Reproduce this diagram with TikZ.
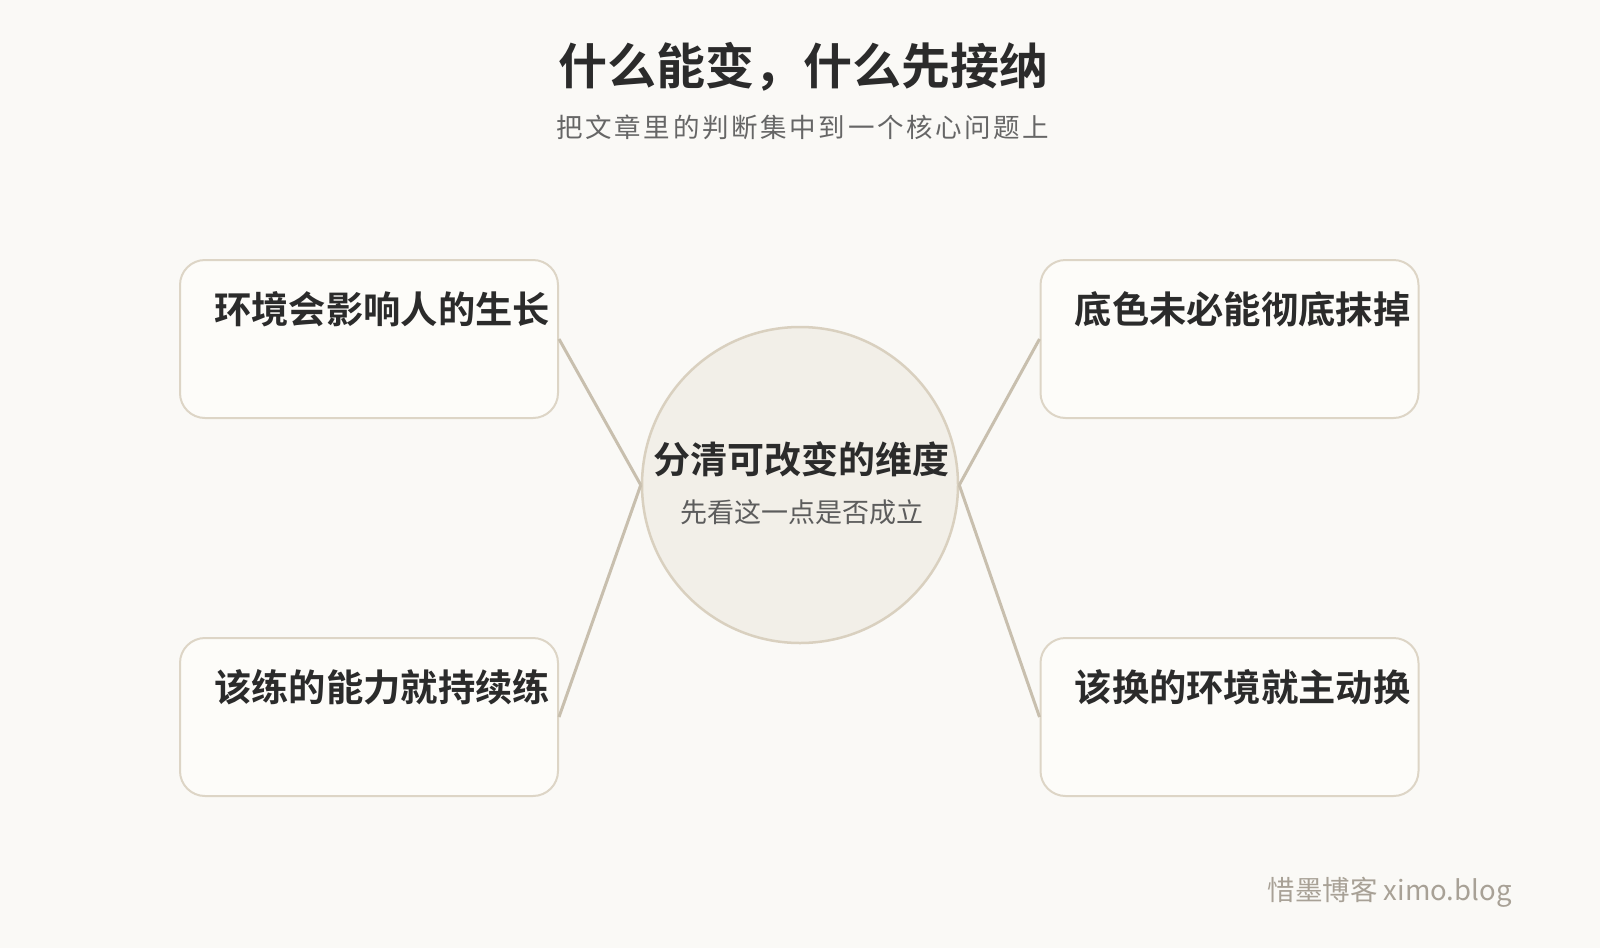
\documentclass[tikz,border=0pt]{standalone}
\usepackage{fontspec}
\setmainfont{Noto Sans CJK SC}
\newfontfamily\cjkb{Noto Sans CJK SC Bold}
\usetikzlibrary{positioning}
\definecolor{bgc}{HTML}{FAF9F6}
\definecolor{cardc}{HTML}{FDFCF9}
\definecolor{cardl}{HTML}{DDD5C6}
\definecolor{hubc}{HTML}{F2EFE8}
\definecolor{hubl}{HTML}{D9D0BF}
\definecolor{linkc}{HTML}{C8BFAE}
\definecolor{inkc}{HTML}{2B2B2B}
\definecolor{greyc}{HTML}{666666}
\definecolor{markc}{HTML}{A8A196}
\tikzset{
    cardbox/.style = {rectangle, rounded corners=25pt, line width=2pt, draw=cardl, fill=cardc, minimum width=378pt, minimum height=158pt},
    cardtext/.style = {anchor=west, inner sep=0pt, text=inkc, font=\cjkb\fontsize{37.3}{42}\selectfont},
    hubnode/.style = {circle, line width=2.5pt, draw=hubl, fill=hubc, minimum size=316pt, inner sep=0pt},
    edgel/.style = {line width=3pt, draw=linkc},
}
\begin{document}
\begin{tikzpicture}[x=1pt,y=-1pt]
  \fill[bgc] (0,0) rectangle (1600,948);
  \useasboundingbox (0,0) rectangle (1600,948);

  \node[text=inkc, font=\cjkb\fontsize{49}{54}\selectfont] (title) at (803,67) {什么能变，什么先接纳};
  \node[text=greyc, font=\fontsize{26.5}{30}\selectfont\addfontfeatures{LetterSpace=10}] (sub) at (803,127) {把文章里的判断集中到一个核心问题上};

  \node[hubnode] (hub) at (800,485) {};
  \node[text=inkc, font=\cjkb\fontsize{37}{42}\selectfont] (hubt) at (801,459) {分清可改变的维度};
  \node[text=greyc!90!black, font=\fontsize{27}{31}\selectfont] (hubs) at (802,512) {先看这一点是否成立};

  \node[cardbox] (lt) at (369,339) {};
  \node[cardbox] (lb) at (369,717) {};
  \node[cardbox] (rt) at (1229.5,339) {};
  \node[cardbox] (rb) at (1229.5,717) {};

  \node[cardtext] (ltt) at ([xshift=35pt,yshift=-50pt]lt.north west) {环境会影响人的生长};
  \node[cardtext] (lbt) at ([xshift=35pt,yshift=-50pt]lb.north west) {该练的能力就持续练};
  \node[cardtext] (rtt) at ([xshift=35pt,yshift=-50pt]rt.north west) {底色未必能彻底抹掉};
  \node[cardtext] (rbt) at ([xshift=35pt,yshift=-50pt]rb.north west) {该换的环境就主动换};

  \draw[edgel] (lt.east) -- (hub.west);
  \draw[edgel] (lb.east) -- (hub.west);
  \draw[edgel] (rt.west) -- (hub.east);
  \draw[edgel] (rb.west) -- (hub.east);

  \node[anchor=east, text=markc, font=\fontsize{27.5}{31}\selectfont] (mark) at (1515,892) {惜墨博客 ximo.blog};
\end{tikzpicture}
\end{document}
